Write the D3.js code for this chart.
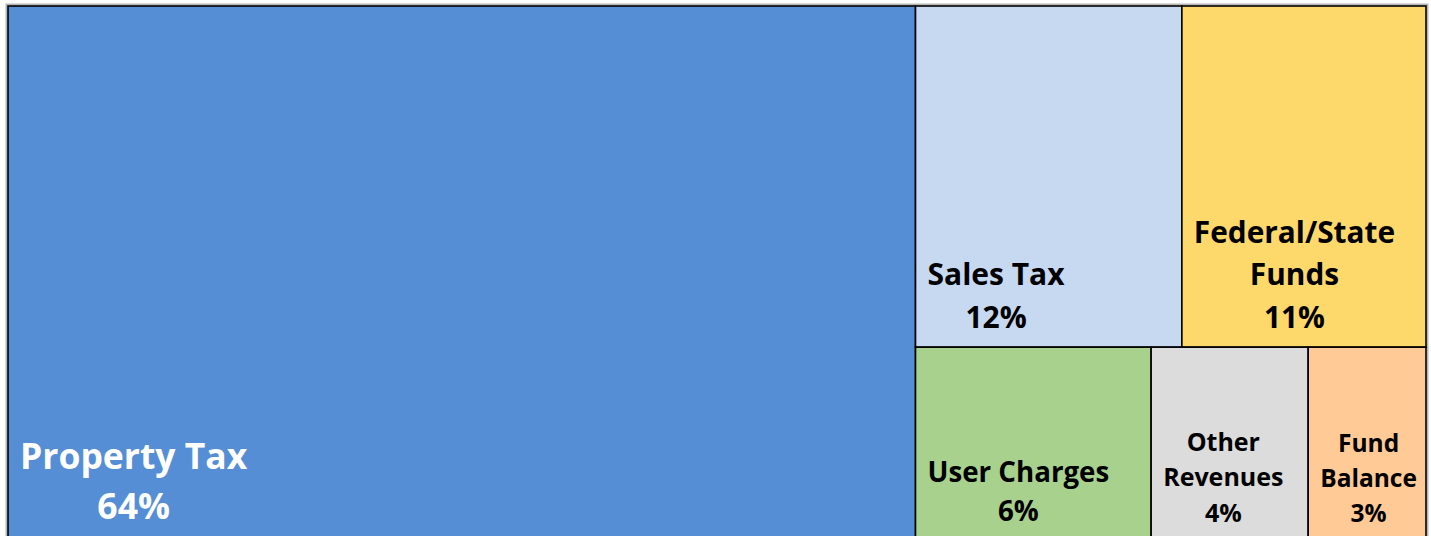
<!DOCTYPE html>
<html>
<head>
<meta charset="utf-8">
<script src="https://cdn.jsdelivr.net/npm/d3@7"></script>
<style>
  html, body { margin: 0; padding: 0; background: #fff; }
  svg { display: block; }
  .cell-label { font-family: "Open Sans", "Noto Sans", sans-serif; font-weight: 700; }
</style>
</head>
<body>
<div id="chart"></div>
<script>
// revenue sources (share of total, %)
const categories = ['Property Tax', 'Sales Tax', 'Federal/State Funds', 'User Charges', 'Other Revenues', 'Fund Balance'];
const values = [64, 12, 11, 6, 4, 3];
// how each label breaks into lines
const labelLines = [
  ['Property Tax'],
  ['Sales Tax'],
  ['Federal/State', 'Funds'],
  ['User Charges'],
  ['Other', 'Revenues'],
  ['Fund', 'Balance']
];

const colors = ['#558ED5', '#C6D9F1', '#FDD86A', '#A9D18E', '#DCDCDC', '#FFCA96'];
const textColors = ['#fff', '#000', '#000', '#000', '#000', '#000'];
const fontSizes = [35.5, 30, 29.8, 27.7, 25, 24.5];

const width = 1431, height = 536;
const margin = {t:6, l:8, r:5};
const w = width - margin.l - margin.r;
const h = 534; // runs off the bottom of the picture

const svg = d3.select('#chart').append('svg')
  .attr('width', width)
  .attr('height', height);

const root = d3.hierarchy({children: categories.map((c,i) => ({name:c, value:values[i], i:i}))})
  .sum(d => d.value || 0);

d3.treemap()
  .tile(d3.treemapSquarify.ratio(1))
  .size([w, h])
  .round(false)(root);

const plot = svg.append('g')
  .attr('transform', `translate(${margin.l},${margin.t})`);

// faint shadow round the frame
plot.append('rect')
  .attr('x', -1.5).attr('y', -1.5)
  .attr('width', w + 3).attr('height', h + 3)
  .attr('fill', 'none')
  .attr('stroke', '#b5b5b5')
  .attr('stroke-width', 2);

const cells = plot.selectAll('.cell')
  .data(root.leaves())
  .enter().append('g')
  .attr('class', 'cell')
  .attr('transform', d => `translate(${d.x0},${d.y0})`);

cells.append('rect')
  .attr('width', d => d.x1 - d.x0)
  .attr('height', d => d.y1 - d.y0)
  .attr('fill', d => colors[d.data.i])
  .attr('stroke', '#000')
  .attr('stroke-width', 1.6);

cells.each(function(d){
  const i = d.data.i;
  const fs = fontSizes[i];
  const lh = fs * 1.42;
  const pad = 12 + fs * 0.25;
  const lines = labelLines[i].concat([values[i] + '%']);
  const g = d3.select(this).append('g').attr('class', 'cell-label');
  const cellH = d.y1 - d.y0;
  const texts = g.selectAll('text')
    .data(lines)
    .enter().append('text')
    .attr('font-size', fs)
    .attr('fill', textColors[i])
    .attr('text-anchor', 'middle')
    .attr('y', (t, k) => cellH - pad - (lines.length - 1 - k) * lh)
    .text(t => t);
  // centre the lines inside a block that sits at the left of the cell
  let maxW = 0;
  texts.each(function(){ maxW = Math.max(maxW, this.getComputedTextLength()); });
  texts.attr('x', 12 + maxW / 2);
});
</script>
</body>
</html>
